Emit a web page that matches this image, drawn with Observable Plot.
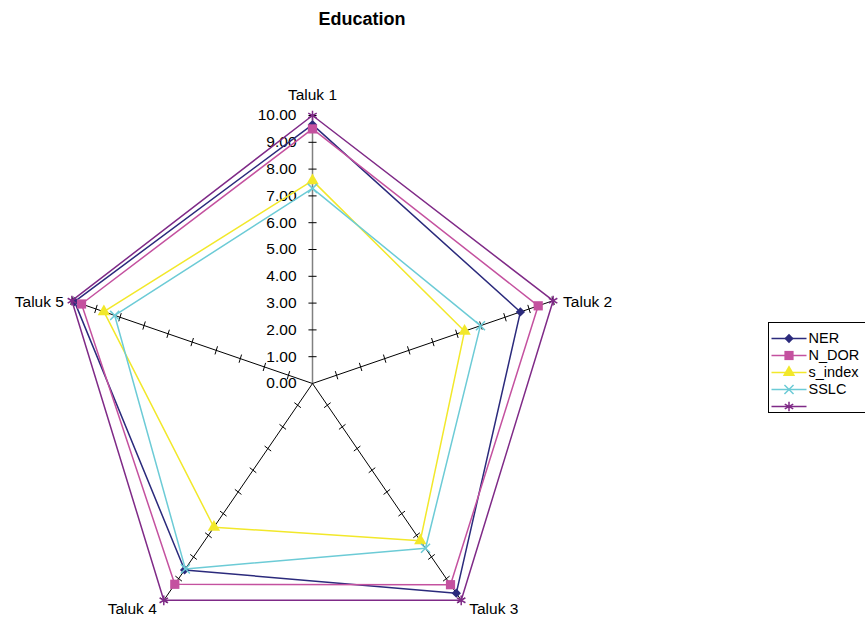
<!DOCTYPE html>
<html>
<head>
<meta charset="utf-8">
<script src="https://cdn.jsdelivr.net/npm/d3@7"></script>
<script src="https://cdn.jsdelivr.net/npm/@observablehq/plot@0.6"></script>
<style>
  html, body { margin: 0; padding: 0; background: #fff; overflow: hidden; }
  body { width: 865px; height: 619px; position: relative; font-family: "Liberation Sans", Arial, sans-serif; }
  #title { position: absolute; left: 0; top: 9px; width: 724px; text-align: center; font-weight: bold; font-size: 18px; line-height: 21px; }
  #chart { position: absolute; left: 0; top: 38px; }
  #legend { position: absolute; left: 768px; top: 322px; width: 110px; height: 91px; border: 1px solid #000; box-sizing: border-box; background: #fff; }
  #legend svg { display: block; }
</style>
</head>
<body>
<div id="title">Education</div>
<div id="chart"></div>
<div id="legend"></div>
<script>
// Education indicators per taluk (scale 0–10)
const taluks = ["Taluk 1", "Taluk 2", "Taluk 3", "Taluk 4", "Taluk 5"];
const seriesNames = ["NER", "N_DOR", "s_index", "SSLC", ""];
const ner     = [9.66, 8.64, 9.67, 8.60, 9.89];
const nDor    = [9.50, 9.38, 9.28, 9.26, 9.60];
const sIndex  = [7.57, 6.32, 7.25, 6.63, 8.67];
const sslc    = [7.28, 6.98, 7.60, 8.55, 8.22];
const maxRef  = [10, 10, 10, 10, 10];
const tickValues = [0, 1, 2, 3, 4, 5, 6, 7, 8, 9, 10];

const seriesValues = [ner, nDor, sIndex, sslc, maxRef];
const colors  = ["#2b2a7c", "#c4519f", "#f2e82a", "#6ccbd6", "#7f2a87"];
const symbols = ["diamond2", "square", "triangle", "times", "asterisk"];
const strokeSymbol = [false, false, false, true, true];
const symbolR = [4.2, 5.2, 4.6, 4.2, 4.6];

// angle of each spoke, clockwise from the top
const angle = i => (2 * Math.PI * i) / taluks.length;
const px = (v, i) => v * Math.sin(angle(i));
const py = (v, i) => v * Math.cos(angle(i));

const rows = seriesValues.map((vals, s) =>
  vals.map((v, i) => ({ s, name: seriesNames[s], taluk: taluks[i], i, value: v }))
);

const spokes = taluks.map((t, i) => ({ t, i }));
const spokeTicks = spokes.flatMap(({ i }) =>
  tickValues.filter(v => v > 0).map(v => ({ i, v }))
);
const tickHalf = 0.16;

// category label placement around the outer ring
const labelOpts = {
  x: d => px(10, d.i), y: d => py(10, d.i),
  text: d => d.t, fontSize: 15.5, fill: "#000"
};
const sinOf = d => Math.sin(angle(d.i));
const cosOf = d => Math.cos(angle(d.i));

const marks = [
  // spokes
  Plot.link(spokes, {
    x1: () => 0, y1: () => 0,
    x2: d => px(10, d.i), y2: d => py(10, d.i),
    stroke: d => (d.i === 0 ? "#808080" : "#000"),
    strokeWidth: d => (d.i === 0 ? 1.5 : 1)
  }),
  // tick marks across each spoke
  Plot.link(spokeTicks, {
    x1: d => px(d.v, d.i) + tickHalf * Math.cos(angle(d.i)),
    y1: d => py(d.v, d.i) - tickHalf * Math.sin(angle(d.i)),
    x2: d => px(d.v, d.i) - tickHalf * Math.cos(angle(d.i)),
    y2: d => py(d.v, d.i) + tickHalf * Math.sin(angle(d.i)),
    stroke: "#000",
    strokeWidth: 1
  }),
  // value labels along the first spoke
  Plot.text(tickValues, {
    x: () => 0, y: d => d,
    text: d => d.toFixed(2),
    textAnchor: "end", dx: -16, fontSize: 15.5, fill: "#000"
  }),
  // category labels: top, upper sides, lower sides
  Plot.text(spokes, { ...labelOpts, filter: d => cosOf(d) > 0.9, textAnchor: "middle", dy: -20 }),
  Plot.text(spokes, { ...labelOpts, filter: d => cosOf(d) > 0 && cosOf(d) < 0.9 && sinOf(d) > 0, textAnchor: "start", dx: 10, dy: 1 }),
  Plot.text(spokes, { ...labelOpts, filter: d => cosOf(d) > 0 && cosOf(d) < 0.9 && sinOf(d) < 0, textAnchor: "end", dx: -8, dy: 1 }),
  Plot.text(spokes, { ...labelOpts, filter: d => cosOf(d) < 0 && sinOf(d) > 0, textAnchor: "start", dx: 8, dy: 9 }),
  Plot.text(spokes, { ...labelOpts, filter: d => cosOf(d) < 0 && sinOf(d) < 0, textAnchor: "end", dx: -7, dy: 9 })
];

rows.forEach((data, s) => {
  marks.push(
    Plot.line(data, {
      x: d => px(d.value, d.i), y: d => py(d.value, d.i),
      curve: "linear-closed",
      stroke: colors[s], strokeWidth: 1.5
    }),
    Plot.dot(data, {
      x: d => px(d.value, d.i), y: d => py(d.value, d.i),
      symbol: symbols[s], r: symbolR[s],
      fill: strokeSymbol[s] ? "none" : colors[s],
      stroke: strokeSymbol[s] ? colors[s] : "none",
      strokeWidth: 1.5
    })
  );
});

const chart = Plot.plot({
  width: 865,
  height: 581,
  margin: 0,
  x: { domain: [-10, 10], range: [59, 565], axis: null },
  y: { domain: [-10, 10], range: [613, 77], axis: null },
  style: { fontFamily: "'Liberation Sans', Arial, sans-serif", background: "white", overflow: "visible" },
  marks
});
document.getElementById("chart").append(chart);

// legend
const legendRows = seriesNames.map((name, s) => ({ name, s }));
const legend = Plot.plot({
  width: 108,
  height: 89,
  margin: 0,
  x: { domain: [0, 1], range: [2, 37], axis: null },
  y: { type: "point", domain: d3.range(seriesNames.length), range: [14, 83], padding: 0, axis: null },
  style: { fontFamily: "'Liberation Sans', Arial, sans-serif", background: "white" },
  marks: [
    Plot.link(legendRows, {
      x1: () => 0, x2: () => 1, y1: d => d.s, y2: d => d.s,
      stroke: d => colors[d.s], strokeWidth: 1.5
    }),
    ...legendRows.map(d =>
      Plot.dot([d], {
        x: () => 0.5, y: e => e.s,
        symbol: symbols[d.s], r: symbolR[d.s],
        fill: strokeSymbol[d.s] ? "none" : colors[d.s],
        stroke: strokeSymbol[d.s] ? colors[d.s] : "none",
        strokeWidth: 1.5
      })
    ),
    Plot.text(legendRows, {
      x: () => 1, y: d => d.s, text: d => d.name,
      textAnchor: "start", dx: 2, fontSize: 14.5, fill: "#000"
    })
  ]
});
document.getElementById("legend").append(legend);
</script>
</body>
</html>
